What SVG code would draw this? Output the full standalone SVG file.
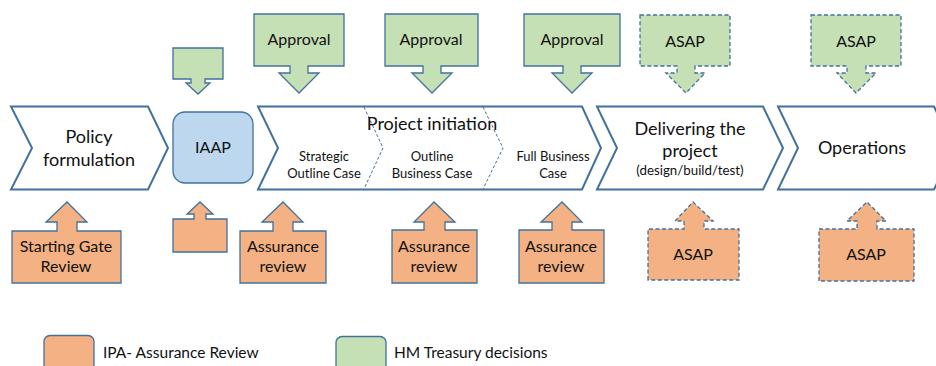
<svg xmlns="http://www.w3.org/2000/svg" width="936" height="366" viewBox="0 0 936 366">
<style>
text{font-family:Lato,"Liberation Sans",sans-serif;fill:#111;text-anchor:middle}
.chev{fill:#fff;stroke:#41719C;stroke-width:2;stroke-linejoin:miter}
.sep{fill:none;stroke:#41719C;stroke-width:1;stroke-dasharray:3 2}
.grn{fill:#C5E0B4;stroke:#41719C;stroke-width:1.3}
.org{fill:#F4B183;stroke:#41719C;stroke-width:1.3}
.dash{stroke-dasharray:4 2.5}
.big{font-size:18px}
.mid{font-size:16px}
.sm{font-size:13px}
.xs{font-size:13.3px}
.leg{text-anchor:start;font-size:15.5px}
</style>
<rect width="936" height="366" fill="#fff"/>
<g id="policy">
<path class="chev" d="M11,106.5 L148,106.5 L168,148 L148,189.5 L11,189.5 L32,148 Z"/>
<text class="big" x="89" y="143">Policy</text>
<text class="big" x="89" y="166">formulation</text>
</g>
<g id="iaap">
<rect x="173" y="112" width="80" height="71" rx="12" fill="#BDD7EE" stroke="#41719C" stroke-width="1.3"/>
<text class="mid" x="213" y="153">IAAP</text>
</g>
<g id="project-initiation">
<path class="chev" d="M258,106.5 L582,106.5 L601,148 L582,189.5 L258,189.5 L278,148 Z"/>
<path class="sep" d="M364,107 L383,148 L364,189"/>
<path class="sep" d="M483,107 L503,148 L483,189"/>
<text class="big" x="432" y="130">Project initiation</text>
<text class="sm" x="324" y="161">Strategic</text>
<text class="sm" x="324" y="178">Outline Case</text>
<text class="sm" x="432" y="161">Outline</text>
<text class="sm" x="432" y="178">Business Case</text>
<text class="sm" x="553" y="161">Full Business</text>
<text class="sm" x="553" y="178">Case</text>
</g>
<g id="delivering">
<path class="chev" d="M597,106.5 L763,106.5 L783,148 L763,189.5 L597,189.5 L617,148 Z"/>
<text class="big" x="690" y="135">Delivering the</text>
<text class="big" x="690" y="157">project</text>
<text class="xs" x="690" y="175">(design/build/test)</text>
</g>
<g id="operations">
<path class="chev" d="M778,106.5 L934,106.5 L954,148 L934,189.5 L778,189.5 L798,148 Z"/>
<text class="big" x="862" y="154">Operations</text>
</g>
<g id="iaap-green">
<path class="grn" d="M173,48 H223 V79 H205 V83 H210 L198,94 L186,83 H191 V79 H173 Z"/>
</g>
<g id="approval-1">
<path class="grn" d="M254,14 H344 V66 H308 V73 H319 L299,93 L279,73 H290 V66 H254 Z"/>
<text class="mid" x="299" y="45">Approval</text>
</g>
<g id="approval-2">
<path class="grn" d="M385,14 H478 V66 H441 V73 H452 L432,93 L412,73 H423 V66 H385 Z"/>
<text class="mid" x="431" y="45">Approval</text>
</g>
<g id="approval-3">
<path class="grn" d="M524,14 H620 V66 H581 V73 H592 L572,93 L552,73 H563 V66 H524 Z"/>
<text class="mid" x="572" y="45">Approval</text>
</g>
<g id="asap-green-1">
<path class="grn dash" d="M640,15 H730 V66 H695 V73 H705 L686,93 L666,73 H677 V66 H640 Z"/>
<text class="mid" x="685" y="47">ASAP</text>
</g>
<g id="asap-green-2">
<path class="grn dash" d="M811,15 H901 V66 H866 V73 H876 L856,93 L837,73 H847 V66 H811 Z"/>
<text class="mid" x="856" y="47">ASAP</text>
</g>
<g id="starting-gate">
<path class="org" d="M12,283 V231 H57 V222 H46 L67,202 L87,222 H77 V231 H121 V283 Z"/>
<text class="mid" x="66" y="252">Starting Gate</text>
<text class="mid" x="66" y="272">Review</text>
</g>
<g id="iaap-orange">
<path class="org" d="M173,252 V219 H194 V214 H187 L200,202 L213,214 H206 V219 H227 V252 Z"/>
</g>
<g id="assurance-1">
<path class="org" d="M240,283 V231 H273 V222 H262 L283,202 L303,222 H293 V231 H326 V283 Z"/>
<text class="mid" x="283" y="252">Assurance</text>
<text class="mid" x="283" y="272">review</text>
</g>
<g id="assurance-2">
<path class="org" d="M392,283 V230 H424 V222 H414 L434,202 L455,222 H445 V230 H477 V283 Z"/>
<text class="mid" x="434" y="252">Assurance</text>
<text class="mid" x="434" y="272">review</text>
</g>
<g id="assurance-3">
<path class="org" d="M519,283 V230 H552 V222 H541 L562,202 L582,222 H572 V230 H604 V283 Z"/>
<text class="mid" x="561" y="252">Assurance</text>
<text class="mid" x="561" y="272">review</text>
</g>
<g id="asap-orange-1">
<path class="org dash" d="M648,280 V229 H684 V221 H675 L693,202 L713,221 H704 V229 H739 V280 Z"/>
<text class="mid" x="693" y="260">ASAP</text>
</g>
<g id="asap-orange-2">
<path class="org dash" d="M819,281 V229 H857 V221 H847 L867,202 L886,221 H877 V229 H914 V281 Z"/>
<text class="mid" x="866" y="260">ASAP</text>
</g>
<g id="legend">
<rect x="44" y="335.5" width="50" height="45" rx="6" fill="#F4B183" stroke="#41719C" stroke-width="1.3"/>
<text class="leg" x="103" y="358">IPA- Assurance Review</text>
<rect x="336" y="336.5" width="50" height="45" rx="6" fill="#C5E0B4" stroke="#41719C" stroke-width="1.3"/>
<text class="leg" x="394" y="358">HM Treasury decisions</text>
</g>
<g id="connectors"></g>
</svg>
